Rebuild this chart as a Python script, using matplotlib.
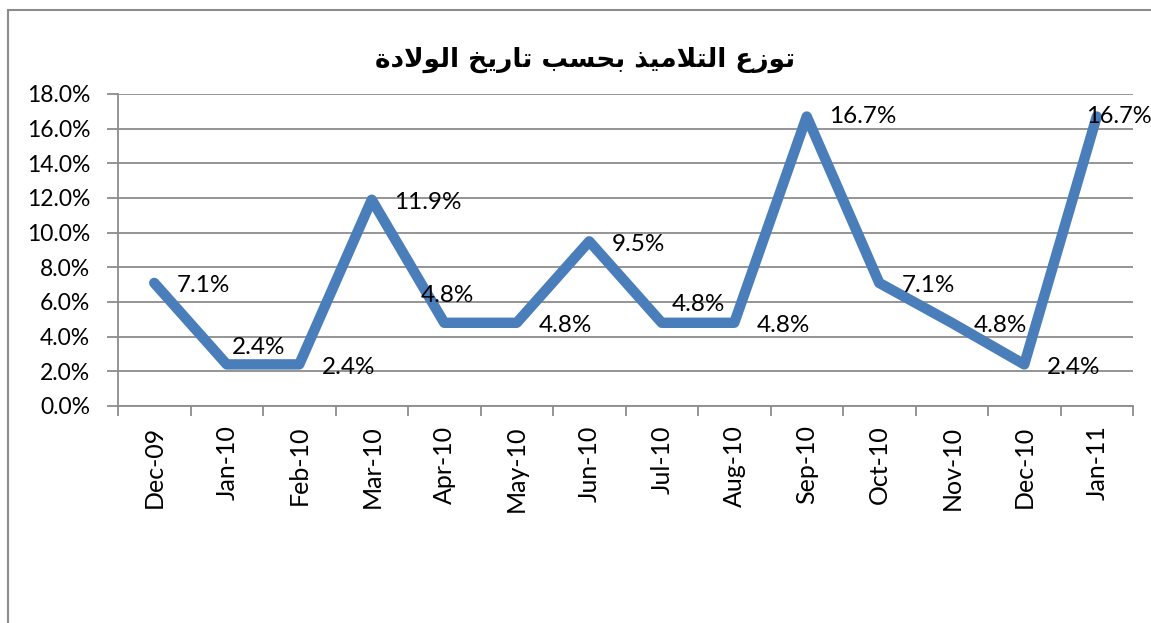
import matplotlib
matplotlib.use('Agg')
import matplotlib.pyplot as plt
from matplotlib.patches import Rectangle
from matplotlib.ticker import FuncFormatter, FixedLocator

# data
months = ['Dec-09', 'Jan-10', 'Feb-10', 'Mar-10', 'Apr-10', 'May-10', 'Jun-10',
          'Jul-10', 'Aug-10', 'Sep-10', 'Oct-10', 'Nov-10', 'Dec-10', 'Jan-11']
share = [7.1, 2.4, 2.4, 11.9, 4.8, 4.8, 9.5, 4.8, 4.8, 16.7, 7.1, 4.8, 2.4, 16.7]

# title: "توزع التلاميذ بحسب تاريخ الولادة" written with presentation forms in visual order
title = ('\uFE93\uFEA9\uFEFB\uFEEE\uFEDF\uFE8D '
         '\uFEA6\uFEF3\uFEAD\uFE8E\uFE97 '
         '\uFE90\uFEB4\uFEA4\uFE91 '
         '\uFEAC\uFEF4\uFEE3\uFEFC\uFE98\uFEDF\uFE8D '
         '\uFEC9\uFEAF\uFEEE\uFE97')

# label offsets in points (dx, dy) - tweaked like in the original chart
offs = [(16, -2), (4, 12), (16, -2), (16, -2), (-17, 20), (16, -2), (16, -2),
        (7, 13), (16, -2), (16, 0), (16, -2), (16, -2), (16, -2), (-8, 0)]

plt.rcParams['font.family'] = ['Lato', 'DejaVu Sans']

fig = plt.figure(figsize=(11.51, 6.23), dpi=100)
fig.set_facecolor('white')
W, H = 1151, 623
ax = fig.add_axes([118 / W, 1 - 406 / H, (1133 - 118) / W, (406 - 94) / H])

x = list(range(len(months)))
ax.plot(x, share, color='#4a7ebb', lw=7.5, solid_joinstyle='round',
        solid_capstyle='round', zorder=3, clip_on=False)

for i, v in enumerate(share):
    fs = 17.5 if i < len(share) - 1 else 17
    ax.annotate(f'{v:.1f}%', (i, v), xytext=offs[i], textcoords='offset points',
                ha='left', va='center', fontsize=fs, zorder=4, annotation_clip=False)

ax.set_xlim(-0.5, len(months) - 0.5)
ax.set_ylim(0, 18)
ax.set_yticks(range(0, 19, 2))
ax.yaxis.set_major_formatter(FuncFormatter(lambda v, p: f'{v:.1f}%'))
ax.yaxis.grid(True, color='#8c8c8c', lw=1.3)
ax.set_axisbelow(True)

ax.set_xticks(x)
ax.set_xticklabels(months, rotation=90, fontsize=18)
ax.xaxis.set_minor_locator(FixedLocator([i - 0.5 for i in range(len(months) + 1)]))
ax.tick_params(axis='x', which='major', length=0, pad=14)
ax.tick_params(axis='x', which='minor', length=7, width=1.3, color='#8c8c8c', direction='out')
ax.tick_params(axis='y', length=8, width=1.3, color='#8c8c8c', labelsize=16.5, pad=12)

for s in ['top', 'right']:
    ax.spines[s].set_visible(False)
for s in ['left', 'bottom']:
    ax.spines[s].set_color('#8c8c8c')
    ax.spines[s].set_linewidth(1.3)

fig.text(585 / W, 1 - 60 / H, title, ha='center', va='center', fontsize=19,
         fontweight='bold', family='DejaVu Sans')

# outer chart border (cut off on the right and bottom)
fig.patches.append(Rectangle((8 / W, -0.1), 1.2, 1 - 10 / H + 0.1, transform=fig.transFigure,
                             fill=False, edgecolor='#8c8c8c', lw=1.5))

fig.savefig('out.png', dpi=100, facecolor='white')
